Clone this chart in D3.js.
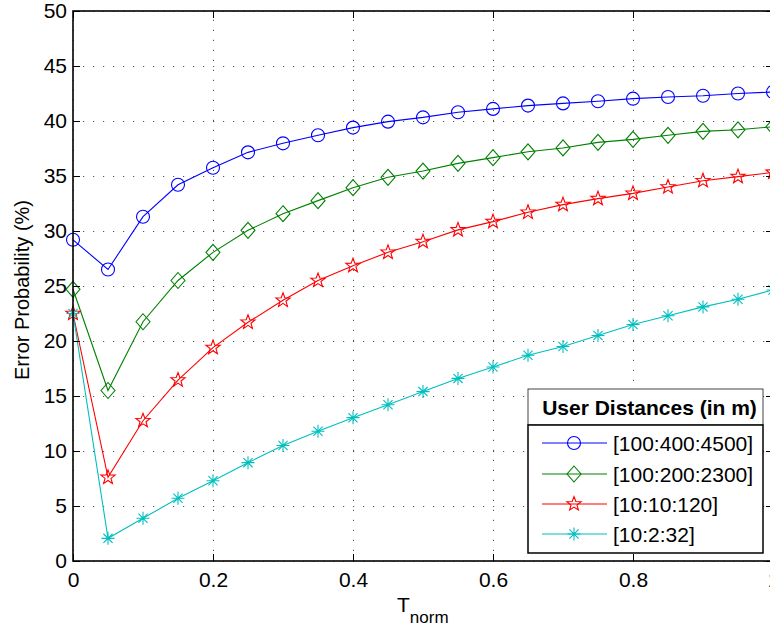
<!DOCTYPE html>
<html>
<head>
<meta charset="utf-8">
<script src="https://cdn.jsdelivr.net/npm/d3@7/dist/d3.min.js"></script>
<style>
  html, body { margin: 0; padding: 0; background: #fff; }
  svg { display: block; font-family: "Liberation Sans", Arial, Helvetica, sans-serif; }
</style>
</head>
<body>
<svg id="chart" width="770" height="629"></svg>
<script>
// ---- data ----
const tnorm = [0, 0.05, 0.1, 0.15, 0.2, 0.25, 0.3, 0.35, 0.4, 0.45, 0.5,
               0.55, 0.6, 0.65, 0.7, 0.75, 0.8, 0.85, 0.9, 0.95, 1.0];
const seriesNames = ["[100:400:4500]", "[100:200:2300]", "[10:10:120]", "[10:2:32]"];
const blueVals  = [29.2, 26.5, 31.3, 34.2, 35.75, 37.15, 37.97, 38.7, 39.4, 39.94, 40.33,
                   40.8, 41.1, 41.4, 41.6, 41.8, 42.03, 42.18, 42.3, 42.5, 42.64];
const greenVals = [24.7, 15.5, 21.75, 25.5, 28.06, 30.06, 31.57, 32.76, 33.94, 34.88, 35.45,
                   36.15, 36.67, 37.2, 37.55, 38.06, 38.33, 38.7, 39.06, 39.2, 39.48];
const redVals   = [22.5, 7.6, 12.75, 16.45, 19.4, 21.7, 23.7, 25.5, 26.85, 28.06, 29.03,
                   30.1, 30.85, 31.7, 32.4, 32.94, 33.42, 34.0, 34.57, 34.94, 35.33];
const cyanVals  = [22.5, 2.06, 3.88, 5.7, 7.3, 8.94, 10.5, 11.8, 13.03, 14.2, 15.4,
                   16.6, 17.64, 18.7, 19.5, 20.5, 21.5, 22.3, 23.1, 23.8, 24.64];
const xTicks = [0, 0.2, 0.4, 0.6, 0.8, 1];
const xTickLabels = ["0", "0.2", "0.4", "0.6", "0.8", "1"];
const yTicks = [0, 5, 10, 15, 20, 25, 30, 35, 40, 45, 50];
const legendTitle = "User Distances (in m)";
const xLabel = "T";
const xLabelSub = "norm";
const yLabel = "Error Probability (%)";

const series = [
  { name: seriesNames[0], values: blueVals,  color: "#0000ff", marker: "circle" },
  { name: seriesNames[1], values: greenVals, color: "#008000", marker: "diamond" },
  { name: seriesNames[2], values: redVals,   color: "#ff0000", marker: "star" },
  { name: seriesNames[3], values: cyanVals,  color: "#00bfbf", marker: "asterisk" }
];

// ---- layout ----
const L = 73, R = 773, T = 11, B = 561;
const x = d3.scaleLinear().domain([0, 1]).range([L, R]);
const y = d3.scaleLinear().domain([0, 50]).range([B, T]);

const svg = d3.select("#chart");

// gridlines
const grid = svg.append("g").attr("class", "grid");
grid.append("g").attr("transform", `translate(0,${B})`)
  .call(d3.axisBottom(x).tickValues(xTicks).tickSize(-(B - T)).tickFormat(""))
  .call(g => g.select(".domain").remove());
grid.append("g").attr("transform", `translate(${L},0)`)
  .call(d3.axisLeft(y).tickValues(yTicks).tickSize(-(R - L)).tickFormat(""))
  .call(g => g.select(".domain").remove());
grid.selectAll("line")
  .attr("stroke", "#555")
  .attr("stroke-width", 1)
  .attr("stroke-dasharray", "1.2,8.8");

// markers
function markerPath(type) {
  if (type === "circle") {
    return d3.symbol().type(d3.symbolCircle).size(Math.PI * 6.5 * 6.5)();
  }
  if (type === "diamond") {
    return "M0,-8L7,0L0,8L-7,0Z";
  }
  if (type === "star") {
    const pts = [];
    const ro = 7.5, ri = 3.1;
    for (let i = 0; i < 10; i++) {
      const r = i % 2 === 0 ? ro : ri;
      const a = -Math.PI / 2 + i * Math.PI / 5;
      pts.push([r * Math.cos(a), r * Math.sin(a)]);
    }
    return "M" + pts.map(p => p[0].toFixed(2) + "," + p[1].toFixed(2)).join("L") + "Z";
  }
  // asterisk
  const r = 6.5, d = r * Math.SQRT1_2;
  return `M${-r},0L${r},0M0,${-r}L0,${r}M${-d},${-d}L${d},${d}M${-d},${d}L${d},${-d}`;
}

// lines
const line = d3.line().x((d, i) => x(tnorm[i])).y(d => y(d));
const plot = svg.append("g").attr("class", "plot");
series.forEach(s => {
  plot.append("path")
    .attr("d", line(s.values))
    .attr("fill", "none")
    .attr("stroke", s.color)
    .attr("stroke-width", 1.1);
  plot.selectAll(null)
    .data(s.values)
    .enter().append("path")
    .attr("transform", (d, i) => `translate(${x(tnorm[i])},${y(d)})`)
    .attr("d", markerPath(s.marker))
    .attr("fill", "none")
    .attr("stroke", s.color)
    .attr("stroke-width", 1.1);
});

// axes (inward ticks)
const axStyle = g => {
  g.selectAll(".domain").remove();
  g.selectAll(".tick line").attr("stroke", "#000").attr("stroke-width", 1);
  g.selectAll(".tick text").attr("fill", "#000").style("font-size", "21px")
    .style("font-family", "'Liberation Sans', Arial, Helvetica, sans-serif");
};
svg.append("g").attr("transform", `translate(0,${B})`)
  .call(d3.axisBottom(x).tickValues(xTicks).tickSizeInner(-7).tickSizeOuter(0).tickPadding(11)
        .tickFormat((d, i) => xTickLabels[i]))
  .call(axStyle);
svg.append("g").attr("transform", `translate(0,${T})`)
  .call(d3.axisTop(x).tickValues(xTicks).tickSizeInner(-7).tickSizeOuter(0).tickFormat(""))
  .call(axStyle);
svg.append("g").attr("transform", `translate(${L},0)`)
  .call(d3.axisLeft(y).tickValues(yTicks).tickSizeInner(-7).tickSizeOuter(0).tickPadding(6))
  .call(axStyle);
svg.append("g").attr("transform", `translate(${R},0)`)
  .call(d3.axisRight(y).tickValues(yTicks).tickSizeInner(-7).tickSizeOuter(0).tickFormat(""))
  .call(axStyle);

// frame
svg.append("rect")
  .attr("x", L).attr("y", T).attr("width", R - L).attr("height", B - T)
  .attr("fill", "none").attr("stroke", "#000").attr("stroke-width", 1.6);

// axis labels
const xl = svg.append("text")
  .attr("x", 397).attr("y", 612)
  .attr("text-anchor", "start")
  .style("font-size", "21px").attr("fill", "#000");
xl.append("tspan").text(xLabel);
xl.append("tspan").attr("dy", 11).style("font-size", "17px").text(xLabelSub);

svg.append("text")
  .attr("transform", `translate(29,${(T + B) / 2 + 4}) rotate(-90)`)
  .attr("text-anchor", "middle")
  .style("font-size", "20px").attr("fill", "#000")
  .text(yLabel);

// legend
const lg = svg.append("g").attr("class", "legend");
const lx = 528, lw = 235, ty = 389, th = 36, ey = 425, eh = 128;
lg.append("rect").attr("x", lx).attr("y", ty).attr("width", lw).attr("height", th)
  .attr("fill", "#fff").attr("stroke", "#444").attr("stroke-width", 1);
lg.append("rect").attr("x", lx).attr("y", ey).attr("width", lw).attr("height", eh)
  .attr("fill", "#fff").attr("stroke", "#000").attr("stroke-width", 1.5);
lg.append("text").attr("x", lx + lw / 2 + 4).attr("y", ty + 26)
  .attr("text-anchor", "middle").style("font-size", "21px").style("font-weight", "bold")
  .attr("fill", "#000").text(legendTitle);
const entryY = [443, 474, 504, 534];
series.forEach((s, i) => {
  const yy = entryY[i];
  lg.append("line").attr("x1", 542).attr("x2", 607).attr("y1", yy).attr("y2", yy)
    .attr("stroke", s.color).attr("stroke-width", 1.1);
  lg.append("path").attr("transform", `translate(574,${yy})`)
    .attr("d", markerPath(s.marker)).attr("fill", "none")
    .attr("stroke", s.color).attr("stroke-width", 1.1);
  lg.append("text").attr("x", 613).attr("y", yy).attr("dy", "0.36em")
    .style("font-size", "21px").attr("fill", "#000").text(s.name);
});
</script>
</body>
</html>
